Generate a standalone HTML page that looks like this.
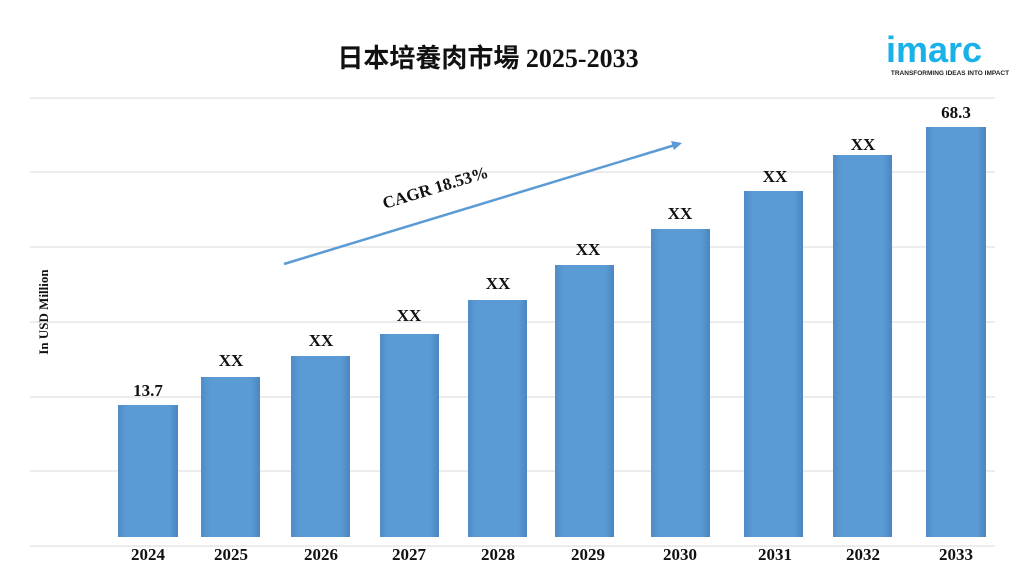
<!DOCTYPE html>
<html><head><meta charset="utf-8"><style>
body{margin:0;width:1024px;height:576px;background:#fff;overflow:hidden;font-family:"Liberation Serif","Noto Serif CJK SC",serif;}
</style></head><body>
<svg width="1024" height="576" xmlns="http://www.w3.org/2000/svg">
<defs>
<linearGradient id="g" x1="0" x2="1" y1="0" y2="0">
<stop offset="0" stop-color="#4f8cc7"/><stop offset="0.15" stop-color="#5b9bd5"/><stop offset="0.85" stop-color="#5b9bd5"/><stop offset="1" stop-color="#4a86c0"/>
</linearGradient>
</defs>
<g stroke="#d9d9d9" stroke-width="1">
<line x1="30" x2="995" y1="98" y2="98"/><line x1="30" x2="995" y1="172" y2="172"/>
<line x1="30" x2="995" y1="247" y2="247"/><line x1="30" x2="995" y1="322" y2="322"/>
<line x1="30" x2="995" y1="397" y2="397"/><line x1="30" x2="995" y1="471" y2="471"/>
<line x1="30" x2="995" y1="546" y2="546"/>
</g>
<text x="488" y="67" text-anchor="middle" font-family="'Liberation Serif','Noto Sans CJK SC',serif" font-weight="bold" font-size="26" fill="#111">日本培養肉市場 2025-2033</text>
<text x="934" y="62" text-anchor="middle" font-family="'Liberation Sans',sans-serif" font-weight="bold" font-size="36" fill="#1ab0e8">imarc</text>
<text x="950" y="75" text-anchor="middle" font-family="'Liberation Sans',sans-serif" font-weight="bold" font-size="6.5" fill="#222">TRANSFORMING IDEAS INTO IMPACT</text>
<text transform="translate(48,312) rotate(-90)" text-anchor="middle" font-weight="bold" font-size="13" fill="#111">In USD Million</text>
<g font-weight="bold" font-size="17" fill="#111" text-anchor="middle">
<rect x="118" y="405" width="60" height="132" fill="url(#g)"/><text x="148" y="396">13.7</text><text x="148" y="560">2024</text>
<rect x="201" y="377" width="59" height="160" fill="url(#g)"/><text x="231" y="366">XX</text><text x="231" y="560">2025</text>
<rect x="291" y="356" width="59" height="181" fill="url(#g)"/><text x="321" y="346">XX</text><text x="321" y="560">2026</text>
<rect x="380" y="334" width="59" height="203" fill="url(#g)"/><text x="409" y="321">XX</text><text x="409" y="560">2027</text>
<rect x="468" y="300" width="59" height="237" fill="url(#g)"/><text x="498" y="289">XX</text><text x="498" y="560">2028</text>
<rect x="555" y="265" width="59" height="272" fill="url(#g)"/><text x="588" y="255">XX</text><text x="588" y="560">2029</text>
<rect x="651" y="229" width="59" height="308" fill="url(#g)"/><text x="680" y="219">XX</text><text x="680" y="560">2030</text>
<rect x="744" y="191" width="59" height="346" fill="url(#g)"/><text x="775" y="182">XX</text><text x="775" y="560">2031</text>
<rect x="833" y="155" width="59" height="382" fill="url(#g)"/><text x="863" y="150">XX</text><text x="863" y="560">2032</text>
<rect x="926" y="127" width="60" height="410" fill="url(#g)"/><text x="956" y="118">68.3</text><text x="956" y="560">2033</text>
</g>
<line x1="284" y1="264" x2="675" y2="145" stroke="#5b9bd5" stroke-width="2.5"/>
<polygon points="682,143 671,141 674,150" fill="#5b9bd5"/>
<text transform="translate(437,193) rotate(-17)" text-anchor="middle" font-weight="bold" font-size="17" fill="#111">CAGR 18.53%</text>
</svg>
</body></html>
